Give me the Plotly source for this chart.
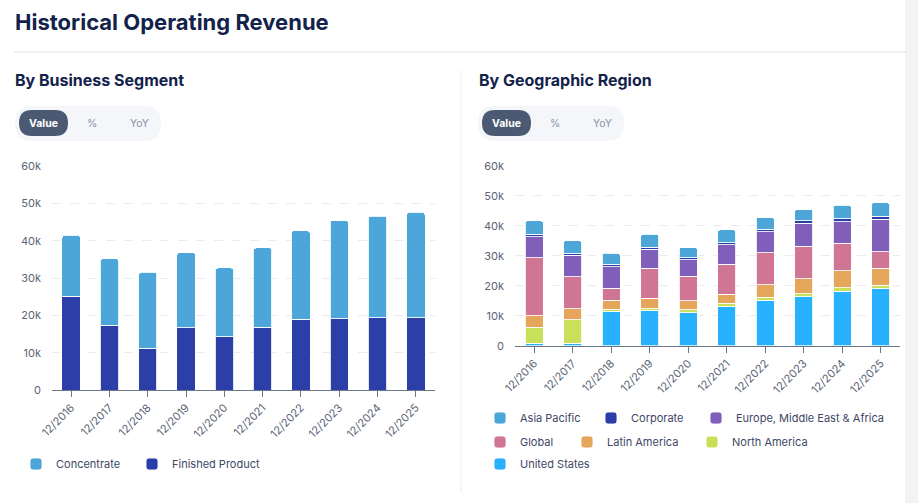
import plotly.graph_objects as go

W, H = 918, 503

periods = ["12/2016", "12/2017", "12/2018", "12/2019", "12/2020",
           "12/2021", "12/2022", "12/2023", "12/2024", "12/2025"]

# by business segment
finished_product = [25100, 17300, 11200, 16700, 14300, 16800, 18900, 19100, 19300, 19300]
concentrate = [16400, 17900, 20300, 20100, 18400, 21300, 23800, 26300, 27300, 28300]

# by geographic region
united_states = [800, 800, 11300, 11600, 11000, 13000, 15200, 16300, 18200, 19100]
north_america = [5300, 7800, 800, 800, 1000, 1100, 900, 1100, 1100, 1100]
latin_america = [3900, 3800, 3100, 3400, 3000, 3100, 4300, 5000, 5700, 5600]
global_rev = [19400, 10600, 3900, 10000, 8200, 10000, 10600, 10800, 9100, 5500]
emea = [7000, 7100, 7200, 6300, 5400, 6400, 7000, 7600, 7300, 10900]
corporate = [800, 800, 800, 800, 700, 700, 800, 900, 1000, 1000]
asia_pacific = [4400, 4100, 3800, 4200, 3400, 4300, 3900, 3700, 4400, 4500]

FONT = "Inter"
DARK = "#13224a"


def px(x):
    return x / W


def py(y):
    return 1 - y / H


def rounded_rect(x0, y0, x1, y1, r):
    # pixel box -> paper path with rounded corners
    rx, ry = r / W, r / H
    a, b, c, d = px(x0), py(y1), px(x1), py(y0)
    return (f"M{a+rx},{b} L{c-rx},{b} Q{c},{b} {c},{b+ry} L{c},{d-ry} Q{c},{d} {c-rx},{d} "
            f"L{a+rx},{d} Q{a},{d} {a},{d-ry} L{a},{b+ry} Q{a},{b} {a+rx},{b} Z")


fig = go.Figure()

# name, values, colour, legend text position (px)
left = [("Finished Product", finished_product, "#2c3ea8", (168, 464)),
        ("Concentrate", concentrate, "#4da6d9", (52, 464))]
right = [("United States", united_states, "#27b1fe", (516, 464)),
         ("North America", north_america, "#c9e15a", (728, 442)),
         ("Latin America", latin_america, "#e5a55b", (603, 442)),
         ("Global", global_rev, "#d07593", (516, 442)),
         ("Europe, Middle East & Africa", emea, "#7f5fb9", (732, 418)),
         ("Corporate", corporate, "#2b3da6", (627, 418)),
         ("Asia Pacific", asia_pacific, "#4ca6d7", (516, 418))]

legends = {}
n = 0
for series, xa, ya in ((left, "x", "y"), (right, "x2", "y2")):
    for name, vals, col, (lx, ly) in series:
        n += 1
        key = "legend" if n == 1 else f"legend{n}"
        fig.add_trace(go.Bar(x=periods, y=vals, name=name, marker_color=col,
                             marker_line=dict(color="rgba(255,255,255,0.85)", width=1),
                             legend=key, showlegend=True, xaxis=xa, yaxis=ya))
        legends[key] = dict(x=(lx - 36) / W, y=1 - ly / H, xref="container", yref="container",
                            xanchor="left", yanchor="middle", orientation="h",
                            bgcolor="rgba(0,0,0,0)", itemclick=False, itemdoubleclick=False,
                            font=dict(family=FONT, size=11, color="#3d4766"))

axis_x = dict(showgrid=False, showline=True, linecolor="#6b7688", linewidth=1,
              ticks="outside", ticklen=6, tickcolor="#6b7688", tickangle=-45,
              tickfont=dict(family=FONT, size=11, color="#5b6478"))
axis_y = dict(range=[0, 60000], tickvals=[0, 10000, 20000, 30000, 40000, 50000, 60000],
              ticktext=["0", "10k", "20k", "30k", "40k", "50k", "60k"],
              showgrid=True, gridcolor="#e9ebef", griddash="dash", gridwidth=1,
              zeroline=False, showline=False, ticks="", ticklabelstandoff=10,
              tickfont=dict(family=FONT, size=11, color="#5b6478"))

shapes = [
    dict(type="line", xref="paper", yref="paper", x0=px(14), x1=px(907), y0=py(52), y1=py(52),
         line=dict(color="#e8eaee", width=1.5)),
    dict(type="line", xref="paper", yref="paper", x0=px(461), x1=px(461), y0=py(70), y1=py(492),
         line=dict(color="#eceef1", width=1)),
    dict(type="rect", xref="paper", yref="paper", x0=px(905), x1=1, y0=0, y1=1,
         fillcolor="#f2f3f5", line_width=0, layer="below"),
]
annotations = [
    dict(text="<b>Historical Operating Revenue</b>", x=px(13), y=py(22), xanchor="left",
         yanchor="middle", font=dict(family=FONT, size=22, color=DARK)),
    dict(text="<b>By Business Segment</b>", x=px(13), y=py(80), xanchor="left",
         yanchor="middle", font=dict(family=FONT, size=16, color=DARK)),
    dict(text="<b>By Geographic Region</b>", x=px(477), y=py(80), xanchor="left",
         yanchor="middle", font=dict(family=FONT, size=16, color=DARK)),
]

# toggle pills
for x0 in (15, 478):
    shapes.append(dict(type="path", xref="paper", yref="paper",
                       path=rounded_rect(x0, 106, x0 + 146, 141, 17),
                       fillcolor="#f4f6fa", line_width=0))
    shapes.append(dict(type="path", xref="paper", yref="paper",
                       path=rounded_rect(x0 + 4, 110, x0 + 53, 136, 13),
                       fillcolor="#4b5a72", line_width=0))
    annotations.append(dict(text="<b>Value</b>", x=px(x0 + 28.5), y=py(123), xanchor="center",
                            yanchor="middle", font=dict(family=FONT, size=10.5, color="white")))
    annotations.append(dict(text="%", x=px(x0 + 77), y=py(123), xanchor="center",
                            yanchor="middle", font=dict(family=FONT, size=10.5, color="#8a93a3")))
    annotations.append(dict(text="YoY", x=px(x0 + 124), y=py(123), xanchor="center",
                            yanchor="middle", font=dict(family=FONT, size=10.5, color="#8a93a3")))
for a in annotations:
    a.update(xref="paper", yref="paper", showarrow=False)

fig.update_layout(
    width=W, height=H, margin=dict(l=0, r=0, t=0, b=0, autoexpand=False),
    paper_bgcolor="white", plot_bgcolor="white",
    barmode="stack", bargap=0.52, barcornerradius=3, showlegend=True,
    xaxis=dict(domain=[px(52), px(435)], anchor="y", **axis_x),
    yaxis=dict(domain=[1 - 390 / H, 1 - 166 / H], anchor="x", **axis_y),
    xaxis2=dict(domain=[px(515), px(900)], anchor="y2", **axis_x),
    yaxis2=dict(domain=[1 - 345.7 / H, 1 - 165.7 / H], anchor="x2", **axis_y),
    shapes=shapes, annotations=annotations,
    font=dict(family=FONT),
    **legends,
)

# drop the default page margin so the figure sits at the window's corner
fig.write_html("out.html", config={"displayModeBar": False},
               post_script="document.body.style.margin='0';")
